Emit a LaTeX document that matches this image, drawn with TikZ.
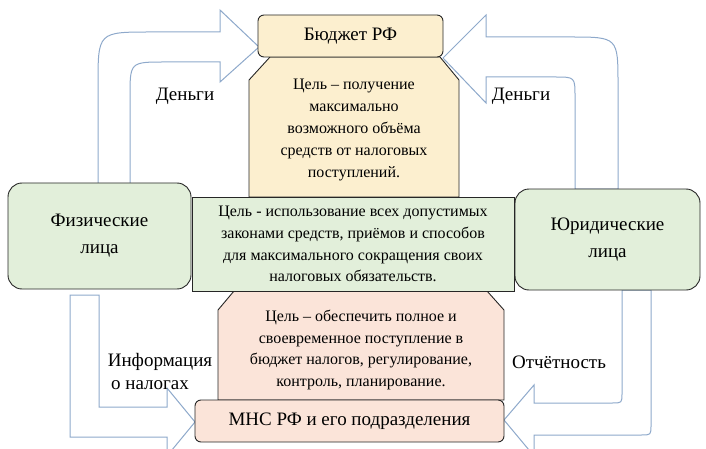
\documentclass[tikz,border=0pt]{standalone}
\usepackage{fontspec}
\setmainfont{Liberation Serif}
\begin{document}
\begin{tikzpicture}[x=1pt,y=-1pt,
  arr/.style={draw=arrblue,fill=white,line width=1pt},
  box/.style={draw=black!85,line width=0.9pt},
  lbl/.style={font=\fontsize{19}{27}\selectfont,align=center},
  txt/.style={font=\fontsize{16}{21.8}\selectfont,align=center}]
\definecolor{arrblue}{HTML}{8EA9CB}
\definecolor{yel}{HTML}{FCEFCF}
\definecolor{grn}{HTML}{E2EFDA}
\definecolor{pnk}{HTML}{FBE4D9}
\useasboundingbox (0,0) rectangle (706,449);
% block arrows
\draw[arr] (98,189) -- (98,85) .. controls (98,32) .. (151,32) -- (220,32) -- (220,10) -- (259,47) -- (220,82) -- (220,62) -- (165,62) .. controls (130,62) .. (130,97) -- (130,189) -- cycle;
\draw[arr] (618,189) -- (618,85) .. controls (618,37) .. (570,37) -- (486,37) -- (486,15) -- (443,58) -- (486,103) -- (486,77) -- (555,77) .. controls (575,77) .. (575,97) -- (575,189) -- cycle;
\draw[arr] (70,295) -- (70,437) -- (167,437) -- (167,456) -- (195,422) -- (167,388) -- (167,407) -- (99,407) -- (99,295) -- cycle;
\draw[arr] (651,290) -- (651,425) .. controls (651,435) .. (641,435) -- (534,435) -- (534,456) -- (504,420) -- (534,385) -- (534,403) -- (612,403) .. controls (622,403) .. (622,393) -- (622,290) -- cycle;
% boxes
\draw[box,fill=yel] (270,57) -- (440,57) -- (459,80) -- (459,197) -- (249,197) -- (249,80) -- cycle;
\draw[box,fill=pnk] (234,291) -- (487,291) -- (504,310) -- (504,400) -- (218,400) -- (218,310) -- cycle;
\node[box,fill=yel,rounded corners=6pt,minimum width=185pt,minimum height=42pt,lbl] (bud) at (350.5,36) {Бюджет РФ};
\node[box,fill=pnk,rounded corners=6pt,minimum width=309pt,minimum height=42pt,lbl] (mns) at (349.5,421) {МНС РФ и его подразделения};
\node[box,fill=grn,rounded corners=14pt,minimum width=183pt,minimum height=106pt,lbl] (fiz) at (99.5,236) {Физические\\лица};
\node[box,fill=grn,rounded corners=14pt,minimum width=185pt,minimum height=101pt,lbl] (yur) at (607.5,239.5) {Юридические\\лица};
\node[box,fill=grn,minimum width=322pt,minimum height=94pt,txt] (mid) at (353,244) {Цель - использование всех допустимых\\законами средств, приёмов и способов\\для максимального сокращения своих\\налоговых обязательств.};
\node[txt] (ygoal) at (354,130) {Цель – получение\\максимально\\возможного объёма\\средств от налоговых\\поступлений.};
\node[txt] (pgoal) at (361,350) {Цель – обеспечить полное и\\своевременное поступление в\\бюджет налогов, регулирование,\\контроль, планирование.};
\node[lbl] (d1) at (185,96) {Деньги};
\node[lbl] (d2) at (521,96) {Деньги};
\node[lbl,inner sep=0pt] (inf) at (160,362) {Информация};
\node[lbl,inner sep=0pt] (inf2) at (150,385) {о налогах};
\node[lbl] (otc) at (559,362) {Отчётность};
\end{tikzpicture}
\end{document}
